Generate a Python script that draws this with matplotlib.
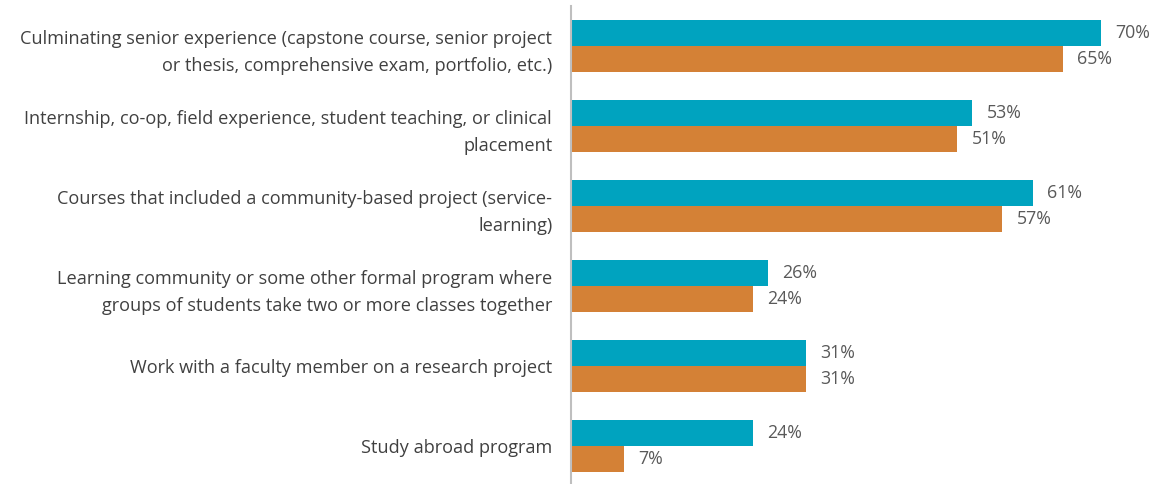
import matplotlib.pyplot as plt
import numpy as np

plt.rcParams['font.family'] = ['Open Sans', 'DejaVu Sans']

# Data
categories = [
    'Culminating senior experience (capstone course, senior project\nor thesis, comprehensive exam, portfolio, etc.)',
    'Internship, co-op, field experience, student teaching, or clinical\nplacement',
    'Courses that included a community-based project (service-\nlearning)',
    'Learning community or some other formal program where\ngroups of students take two or more classes together',
    'Work with a faculty member on a research project',
    'Study abroad program',
]
series_a = [70, 53, 61, 26, 31, 24]
series_b = [65, 51, 57, 24, 31, 7]

teal = '#00A3BF'
orange = '#D48136'

fig = plt.figure(figsize=(11.57, 4.84), dpi=100)
ax = fig.add_axes([571 / 1157, -2 / 484, 586 / 1157, 480 / 484])

y = np.arange(len(categories))
h = 0.325
ax.barh(y - h / 2, series_a, height=h, color=teal)
ax.barh(y + h / 2, series_b, height=h, color=orange)

ax.set_ylim(len(categories) - 0.5, -0.5)
ax.set_xlim(0, 586 / 7.57)

# Value labels
for i in range(len(categories)):
    ax.text(series_a[i] + 1.9, y[i] - h / 2, f'{series_a[i]}%', va='center', ha='left',
            fontsize=12.8, color='#595959')
    ax.text(series_b[i] + 1.9, y[i] + h / 2, f'{series_b[i]}%', va='center', ha='left',
            fontsize=12.8, color='#595959')

# Category labels
ax.set_yticks(y)
ax.set_yticklabels(categories, fontsize=13.1, color='#404040', linespacing=1.65)
ax.tick_params(axis='y', length=0, pad=13.5)
ax.set_xticks([])

for s in ['top', 'right', 'bottom']:
    ax.spines[s].set_visible(False)
ax.spines['left'].set_color('#BFBFBF')
ax.spines['left'].set_linewidth(1.5)

fig.savefig('out.png', dpi=100)
